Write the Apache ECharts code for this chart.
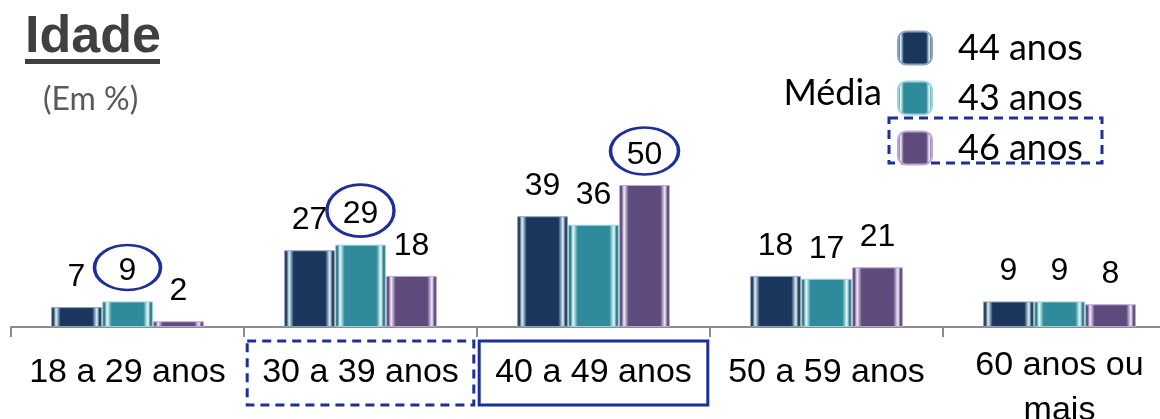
<!DOCTYPE html>
<html>
<head>
<meta charset="utf-8">
<script src="https://cdn.jsdelivr.net/npm/echarts@6/dist/echarts.min.js"></script>
<style>
  html, body { margin: 0; padding: 0; background: #ffffff; }
  #chart { width: 1160px; height: 419px; }
</style>
</head>
<body>
<div id="chart"></div>
<script>
// Faixas etárias (eixo X)
const categories = ['18 a 29 anos', '30 a 39 anos', '40 a 49 anos', '50 a 59 anos', '60 anos ou mais'];

// Séries: média de idade de cada grupo (legenda)
const seriesNames = ['44 anos', '43 anos', '46 anos'];
const valuesMedia44 = [7, 27, 39, 18, 9];
const valuesMedia43 = [9, 29, 36, 17, 9];
const valuesMedia46 = [2, 18, 50, 21, 8];

// Valores destacados com elipse: [série, faixa]
const circled = [[1, '18 a 29 anos'], [1, '30 a 39 anos'], [2, '40 a 49 anos']];
// Faixas com moldura no rótulo do eixo
const dashedCategory = '30 a 39 anos';
const solidCategory = '40 a 49 anos';

const palettes = [
  { edge: '#8ea3bb', dark: '#0e2340', hi: '#d9f6ff', base: '#1b365d' },
  { edge: '#9fd3dc', dark: '#1d6676', hi: '#e4ffff', base: '#2f8a9c' },
  { edge: '#b9a9cf', dark: '#4a3766', hi: '#f6ecff', base: '#5e4a7c' }
];

function bevelFill(p) {
  return new echarts.graphic.LinearGradient(0, 0, 1, 0, [
    { offset: 0, color: p.edge },
    { offset: 0.04, color: p.dark },
    { offset: 0.10, color: p.hi },
    { offset: 0.19, color: p.base },
    { offset: 0.81, color: p.base },
    { offset: 0.90, color: p.hi },
    { offset: 0.96, color: p.dark },
    { offset: 1, color: p.edge }
  ]);
}

const allValues = [valuesMedia44, valuesMedia43, valuesMedia46];
const ringColor = '#1f2f9a';
// ellipse size per highlighted value (rings around the labels)
const ringSizes = [[66, 45], [67, 52], [68, 47]];

const series = allValues.map(function (vals, si) {
  const rings = [];
  circled.forEach(function (c, ci) {
    if (c[0] !== si) return;
    const v = vals[categories.indexOf(c[1])];
    rings.push({ coord: [c[1], v], value: v, symbolSize: ringSizes[ci] });
  });
  return {
    name: seriesNames[si],
    type: 'bar',
    data: vals,
    barWidth: 51,
    barGap: '0%',
    itemStyle: { color: bevelFill(palettes[si]), borderColor: palettes[si].edge, borderWidth: 1 },
    label: {
      show: true,
      position: 'top',
      distance: 14,
      color: '#000000',
      fontFamily: 'Liberation Sans',
      fontSize: 32
    },
    markPoint: rings.length ? {
      symbol: 'circle',
      symbolOffset: [0, -34],
      silent: true,
      label: { show: false },
      itemStyle: { color: 'rgba(0,0,0,0)', borderColor: ringColor, borderWidth: 3 },
      data: rings
    } : undefined
  };
});

const chart = echarts.init(document.getElementById('chart'), null, { renderer: 'canvas' });

const labelFont = 'Liberation Sans';
const calibriLike = 'Lato';

chart.setOption({
  animation: false,
  backgroundColor: '#ffffff',
  // the last band runs past the right edge of the canvas
  grid: { left: 11, right: -16, top: 43, bottom: 92, outerBoundsMode: 'none', containLabel: false },
  legend: {
    orient: 'vertical',
    left: 897,
    top: 30,
    padding: 0,
    itemWidth: 34,
    itemHeight: 33,
    itemGap: 14,
    selectedMode: false,
    data: seriesNames,
    textStyle: { fontFamily: calibriLike, fontSize: 36, color: '#000000', padding: [0, 0, 0, 21] }
  },
  xAxis: {
    type: 'category',
    data: categories,
    axisLine: { lineStyle: { color: '#8c8c8c', width: 2 } },
    axisTick: { show: true, length: 10, lineStyle: { color: '#8c8c8c', width: 2 } },
    axisLabel: {
      interval: 0,
      margin: 26,
      fontFamily: labelFont,
      fontSize: 34,
      color: '#000000',
      formatter: function (v) {
        if (v === dashedCategory) return '{dash|' + v + '}';
        if (v === solidCategory) return '{solid|' + v + '}';
        if (v.indexOf(' ou ') > 0) {
          const parts = v.split(' ou ');
          return '{first|' + parts[0] + ' ou}\n{second|' + parts[1] + '}';
        }
        return '{plain|' + v + '}';
      },
      rich: {
        plain: { fontFamily: labelFont, fontSize: 34, lineHeight: 40, padding: [15, 15] },
        first: { fontFamily: labelFont, fontSize: 34, lineHeight: 26, padding: [0, 15, 0, 15] },
        second: { fontFamily: labelFont, fontSize: 34, lineHeight: 64 },
        dash: {
          fontFamily: labelFont, fontSize: 34, lineHeight: 40, padding: [15, 15],
          borderColor: ringColor, borderWidth: 3, borderType: [9, 6]
        },
        solid: {
          fontFamily: labelFont, fontSize: 34, lineHeight: 40, padding: [15, 16],
          borderColor: ringColor, borderWidth: 3
        }
      }
    }
  },
  yAxis: { type: 'value', min: 0, max: 100, show: false, splitLine: { show: false } },
  series: series,
  graphic: [
    {
      type: 'text', left: 25, top: 12,
      style: { text: 'Idade', fontFamily: labelFont, fontWeight: 'bold', fontSize: 52, fill: '#404040' }
    },
    { type: 'rect', shape: { x: 25, y: 59, width: 135, height: 5 }, style: { fill: '#404040' } },
    {
      type: 'text', left: 43, top: 84,
      style: { text: '(Em %)', fontFamily: calibriLike, fontSize: 32, fill: '#595959' }
    },
    {
      type: 'text', right: 1160 - 882, top: 75,
      style: { text: 'Média', fontFamily: calibriLike, fontSize: 36, fill: '#000000' }
    },
    {
      type: 'rect', shape: { x: 889, y: 118, width: 213, height: 45 },
      style: { fill: 'none', stroke: ringColor, lineWidth: 3, lineDash: [9, 6] }
    }
  ]
});
</script>
</body>
</html>
